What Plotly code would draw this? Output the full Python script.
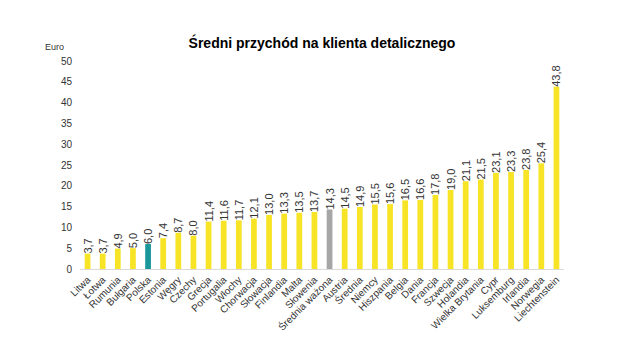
import plotly.graph_objects as go

categories = ["Litwa", "Łotwa", "Rumunia", "Bułgaria", "Polska", "Estonia", "Węgry", "Czechy",
              "Grecja", "Portugalia", "Włochy", "Chorwacja", "Słowacja", "Finlandia", "Malta",
              "Słowenia", "Średnia ważona", "Austria", "Średnia", "Niemcy", "Hiszpania", "Belgia",
              "Dania", "Francja", "Szwecja", "Holandia", "Wielka Brytania", "Cypr", "Luksemburg",
              "Irlandia", "Norwegia", "Liechtenstein"]
values = [3.7, 3.7, 4.9, 5.0, 6.0, 7.4, 8.7, 8.0, 11.4, 11.6, 11.7, 12.1, 13.0, 13.3, 13.5,
          13.7, 14.3, 14.5, 14.9, 15.5, 15.6, 16.5, 16.6, 17.8, 19.0, 21.1, 21.5, 23.1, 23.3,
          23.8, 25.4, 43.8]
y_ticks = [0, 5, 10, 15, 20, 25, 30, 35, 40, 45, 50]

YELLOW = "#F7E427"
TEAL = "#1A979B"
GRAY = "#A6A6A6"
colors = [TEAL if c == "Polska" else GRAY if c == "Średnia ważona" else YELLOW for c in categories]
labels = [f"{v:.1f}".replace(".", ",") for v in values]

fig = go.Figure(go.Bar(
    x=categories, y=values, marker_color=colors, marker_line_width=0,
    text=labels, textposition="outside", textangle=-90, constraintext="none",
    textfont=dict(family="Liberation Sans, Arial", size=11, color="#333333"),
    cliponaxis=False,
))

fig.update_layout(
    width=632, height=352,
    margin=dict(l=72, r=76, t=53, b=91, autoexpand=False),
    plot_bgcolor="white", paper_bgcolor="white",
    bargap=0.62,
    showlegend=False,
    uniformtext=dict(minsize=11, mode="show"),
    font=dict(family="Liberation Sans, Arial", color="#333333", size=10),
    title=dict(text="<b>Średni przychód na klienta detalicznego</b>",
               x=0.5, xref="paper", xanchor="center", y=1 - 35 / 352, yref="container",
               yanchor="middle",
               font=dict(family="Liberation Sans, Arial", size=14, color="#000000")),
    xaxis=dict(tickangle=-45, showgrid=False, showline=True, linecolor="#D9D9D9",
               ticks="", automargin=False, tickfont=dict(size=10, color="#333333")),
    yaxis=dict(range=[0, 50], tickvals=y_ticks, showgrid=False, zeroline=False,
               showline=False, ticks="", automargin=False, ticklabelstandoff=7,
               tickfont=dict(size=10, color="#333333")),
    annotations=[dict(text="Euro", xref="paper", yref="paper", x=-0.052, y=1.067,
                      xanchor="center", yanchor="middle", showarrow=False,
                      font=dict(size=9, color="#333333"))],
)

fig.write_html("out.html")
